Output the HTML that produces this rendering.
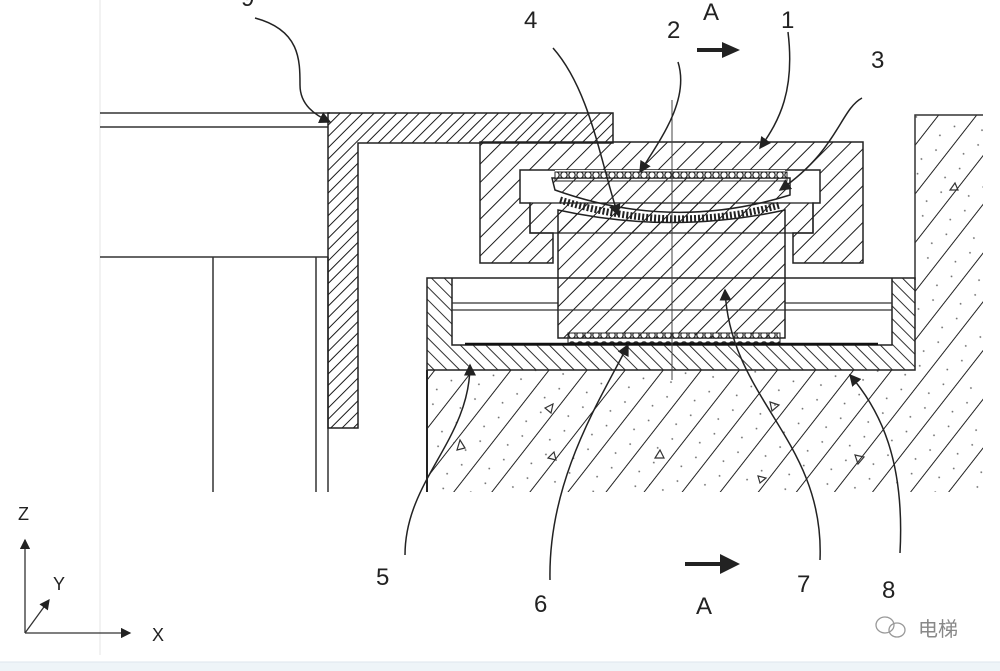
<!DOCTYPE html>
<html><head><meta charset="utf-8"><style>
html,body{margin:0;padding:0;background:#fff}
svg{display:block}
text{font-family:"Liberation Sans","Noto Sans CJK SC",sans-serif;fill:#222}
</style></head><body>
<svg width="1000" height="671" viewBox="0 0 1000 671" xmlns="http://www.w3.org/2000/svg">
<defs>
<pattern id="h1" patternUnits="userSpaceOnUse" width="13" height="13" patternTransform="rotate(45)"><line x1="0" y1="0" x2="0" y2="13" stroke="#1a1a1a" stroke-width="2"/></pattern>
<pattern id="h9" patternUnits="userSpaceOnUse" width="8" height="8" patternTransform="rotate(45)"><line x1="0" y1="0" x2="0" y2="8" stroke="#1a1a1a" stroke-width="2"/></pattern>
<pattern id="h5" patternUnits="userSpaceOnUse" width="9" height="9" patternTransform="rotate(-45)"><line x1="0" y1="0" x2="0" y2="9" stroke="#1a1a1a" stroke-width="1.8"/></pattern>
<pattern id="hc" patternUnits="userSpaceOnUse" width="30" height="30" patternTransform="rotate(38)"><line x1="0" y1="0" x2="0" y2="30" stroke="#222" stroke-width="2"/><circle cx="14" cy="8" r="0.9" fill="#666"/><circle cx="20" cy="22" r="0.9" fill="#666"/></pattern>
<pattern id="bead" patternUnits="userSpaceOnUse" width="8" height="10"><circle cx="4" cy="5" r="3.2" fill="#fff" stroke="#222" stroke-width="1.2"/></pattern>
<marker id="ar" markerWidth="8" markerHeight="8" refX="7" refY="4" orient="auto"><path d="M0,0 L8,4 L0,8z" fill="#222"/></marker>
</defs>
<rect x="0" y="0" width="1000" height="671" fill="#fff"/>
<rect x="0" y="662" width="1000" height="9" fill="#eef4f8"/>
<line x1="0" y1="662" x2="1000" y2="662" stroke="#dde6ee"/>
<line x1="100" y1="0" x2="100" y2="655" stroke="#e6e6e6"/>

<g stroke="#333" stroke-width="1.5" fill="none">
<line x1="100" y1="113" x2="330" y2="113"/>
<line x1="100" y1="127" x2="328" y2="127"/>
<line x1="100" y1="257" x2="328" y2="257"/>
<line x1="213" y1="257" x2="213" y2="492"/>
<line x1="316" y1="257" x2="316" y2="492"/>
<line x1="328" y1="257" x2="328" y2="492"/>
</g>
<path d="M328,113 L613,113 L613,143 L358,143 L358,428 L328,428 Z" fill="url(#h9)" stroke="#222" stroke-width="1.5"/>

<path d="M427,370 L915,370 L915,115 L983,115 L983,492 L427,492 Z" fill="url(#hc)" stroke="none"/>
<path d="M915,280 L915,115 L983,115" fill="none" stroke="#333" stroke-width="1.5"/>
<line x1="427" y1="370" x2="427" y2="492" stroke="#222" stroke-width="2"/>
<g fill="none" stroke="#333" stroke-width="1.2">
<path d="M545,408 l8,-4 l-2,9z"/><path d="M770,402 l9,3 l-7,6z"/><path d="M655,458 l9,0 l-4,-8z"/><path d="M855,455 l9,2 l-6,7z"/><path d="M950,190 l8,0 l-3,-7z"/><path d="M548,458 l6,-6 l2,8z"/><path d="M758,476 l8,2 l-6,5z"/><path d="M460,440 l5,8 l-8,2z"/>
</g>

<path d="M427,278 L915,278 L915,370 L427,370 Z M452,278 L452,345 L892,345 L892,278 Z" fill="url(#h5)" fill-rule="evenodd" stroke="#222" stroke-width="1.5"/>
<g stroke="#333" stroke-width="1.3">
<line x1="452" y1="303" x2="558" y2="303"/><line x1="452" y1="310" x2="558" y2="310"/>
<line x1="785" y1="303" x2="892" y2="303"/><line x1="785" y1="310" x2="892" y2="310"/>
</g>

<path d="M480,142 L863,142 L863,263 L793,263 L793,233 L813,233 L813,203 L820,203 L820,170 L520,170 L520,203 L530,203 L530,233 L553,233 L553,263 L480,263 Z" fill="url(#h1)" stroke="#222" stroke-width="1.5"/>
<rect x="530" y="203" width="283" height="30" fill="url(#h1)" stroke="#222" stroke-width="1.3"/>
<rect x="555" y="170" width="230" height="10" fill="#fff"/>

<path d="M558,233 L558,210 Q672,235 785,210 L785,338 L558,338 Z" fill="url(#h1)" stroke="#222" stroke-width="1.5"/>
<line x1="558" y1="310" x2="785" y2="310" stroke="#333" stroke-width="1.2"/>
<path d="M552,178 L790,178 L790,195 Q672,232 555,190 Z" fill="url(#h1)" stroke="#222" stroke-width="1.5"/>
<rect x="555" y="172" width="232" height="9" fill="url(#bead)" stroke="#222" stroke-width="1"/>
<path d="M560,200 Q672,235 780,205" fill="none" stroke="#222" stroke-width="7" stroke-dasharray="2 2"/>
<rect x="568" y="333" width="212" height="10" fill="url(#bead)" stroke="#222" stroke-width="1"/>
<line x1="465" y1="344" x2="878" y2="344" stroke="#111" stroke-width="2.5"/>
<line x1="672" y1="100" x2="672" y2="380" stroke="#444" stroke-width="1"/>

<g fill="none" stroke="#222" stroke-width="1.5">
<path d="M255,18 C300,30 300,60 300,85 C300,105 315,115 330,122" marker-end="url(#ar)"/>
<path d="M553,48 C590,90 600,160 618,215" marker-end="url(#ar)"/>
<path d="M678,62 C690,100 660,140 640,172" marker-end="url(#ar)"/>
<path d="M788,32 C795,90 780,120 760,148" marker-end="url(#ar)"/>
<path d="M862,98 C840,110 838,150 780,190" marker-end="url(#ar)"/>
<path d="M405,555 C405,480 470,440 470,365" marker-end="url(#ar)"/>
<path d="M550,580 C548,480 600,400 628,345" marker-end="url(#ar)"/>
<path d="M820,560 C825,440 730,400 725,290" marker-end="url(#ar)"/>
<path d="M900,553 C905,460 880,410 850,375" marker-end="url(#ar)"/>
</g>
<path d="M697,50 L725,50" stroke="#222" stroke-width="4"/><path d="M722,42 L740,50 L722,58z" fill="#222"/>
<path d="M685,564 L725,564" stroke="#222" stroke-width="4"/><path d="M720,554 L740,564 L720,574z" fill="#222"/>

<g font-size="24">
<text x="241" y="6">9</text>
<text x="524" y="28">4</text>
<text x="667" y="38">2</text>
<text x="703" y="20">A</text>
<text x="781" y="28">1</text>
<text x="871" y="68">3</text>
<text x="376" y="585">5</text>
<text x="534" y="612">6</text>
<text x="696" y="614">A</text>
<text x="797" y="592">7</text>
<text x="882" y="598">8</text>
</g>
<g stroke="#333" stroke-width="1.3" fill="none">
<line x1="25" y1="633" x2="25" y2="540" marker-end="url(#ar)"/>
<line x1="25" y1="633" x2="130" y2="633" marker-end="url(#ar)"/>
<line x1="25" y1="633" x2="49" y2="600" marker-end="url(#ar)"/>
</g>
<g font-size="18"><text x="18" y="520">Z</text><text x="53" y="590">Y</text><text x="152" y="641">X</text></g>
<g stroke="#999" fill="none" stroke-width="1.3"><ellipse cx="885" cy="625" rx="9" ry="8"/><ellipse cx="897" cy="630" rx="8" ry="7"/></g>
<text x="918" y="636" font-size="20" style="fill:#888">电梯</text>
</svg>
</body></html>
